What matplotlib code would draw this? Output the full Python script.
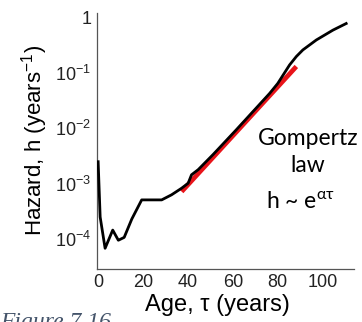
import numpy as np
import matplotlib
matplotlib.use("Agg")
import matplotlib.pyplot as plt

# hazard curve
age = [0, 0.9, 3.1, 6.5, 9.0, 11.6, 15, 19.4, 28.3, 32.7, 37.2, 40.1, 41.6,
       44.6, 51.3, 61.6, 76.4, 80.0, 85.3, 88.3, 91.2, 97.2, 104.6, 110.5]
hazard = [2.5e-3, 2.5e-4, 6.8e-5, 1.45e-4, 9.5e-5, 1.07e-4, 2.3e-4, 5.1e-4,
          5.1e-4, 6.3e-4, 8.3e-4, 1.02e-3, 1.45e-3, 1.8e-3, 3.4e-3, 9.5e-3,
          4.3e-2, 6.5e-2, 0.141, 0.20, 0.263, 0.398, 0.60, 0.79]

# Gompertz fit (red)
fit_age = [37.2, 88.3]
fit_hazard = [7.2e-4, 0.132]

xticks = [0, 20, 40, 60, 80, 100]
yticks = [1e-4, 1e-3, 1e-2, 1e-1, 1]
ytick_labels = [r"$\mathregular{10^{-4}}$", r"$\mathregular{10^{-3}}$",
                r"$\mathregular{10^{-2}}$", r"$\mathregular{10^{-1}}$", "1"]

plt.rcParams["font.family"] = ["Liberation Sans", "DejaVu Sans"]
plt.rcParams["axes.unicode_minus"] = False

fig = plt.figure(figsize=(3.62, 3.22), dpi=100)
ax = fig.add_axes([0.268, 0.165, 0.710, 0.795])

ax.plot(fit_age, fit_hazard, color="#e8141a", lw=3.4, solid_capstyle="butt", zorder=2)
ax.plot(age, hazard, color="black", lw=2.0, zorder=3)

ax.set_yscale("log")
ax.set_xlim(-0.5, 114)
ax.set_ylim(10 ** -4.54, 10 ** 0.09)
ax.set_xticks(xticks)
ax.set_yticks(yticks)
ax.set_yticklabels(ytick_labels)
ax.minorticks_off()
ax.tick_params(length=0, labelsize=13, colors="#222222", pad=4)

for s in ["top", "right"]:
    ax.spines[s].set_visible(False)
for s in ["left", "bottom"]:
    ax.spines[s].set_color("#555555")
    ax.spines[s].set_linewidth(0.9)

ax.set_xlabel(r"Age, τ (years)", fontsize=17, labelpad=1)
ax.xaxis.set_label_coords(0.47, -0.1)
ax.set_ylabel(r"Hazard, h (years$\mathregular{^{-1}}$)", fontsize=16, labelpad=4)

ax.text(0.82, 0.457, "Gompertz\nlaw", transform=ax.transAxes, ha="center",
        va="center", fontsize=16.5, family=["Lato", "DejaVu Sans"], linespacing=1.35)
ax.text(0.79, 0.262, r"h ~ e$\mathregular{^{ατ}}$", transform=ax.transAxes,
        ha="center", va="center", fontsize=16.5, family=["Lato", "DejaVu Sans"])

fig.text(0.0, 0.031, "Figure 7.16", ha="left", va="top", fontsize=17,
         style="italic", family=["Liberation Serif", "DejaVu Serif"], color="#44546a")

fig.savefig("out.png", dpi=100)
